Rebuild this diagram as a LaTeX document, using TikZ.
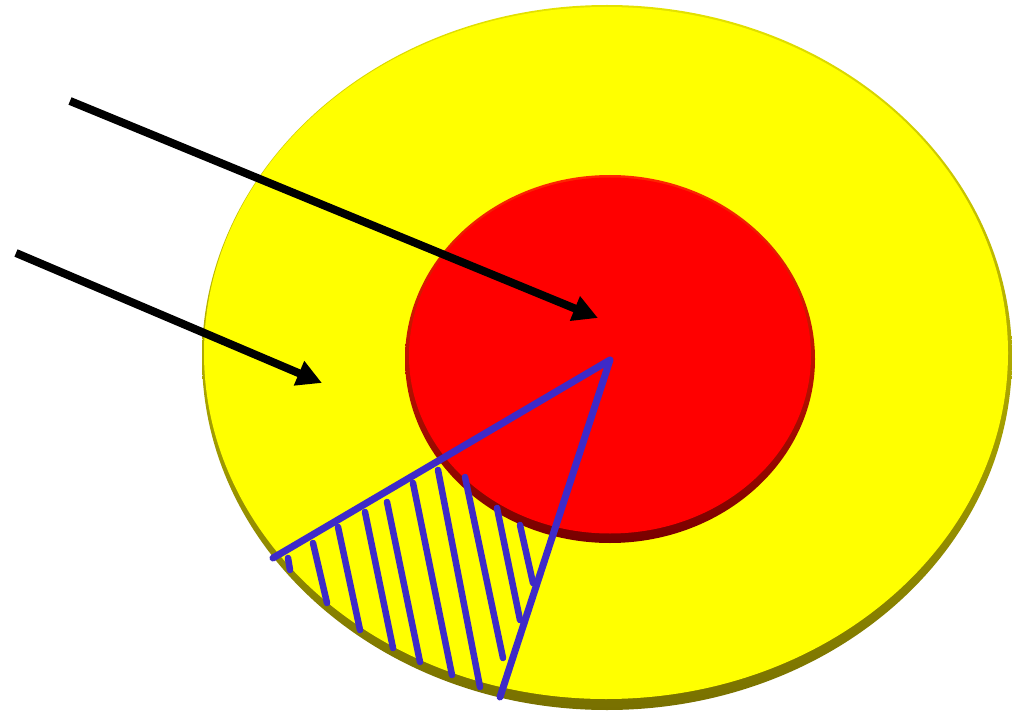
\documentclass[tikz,border=0pt]{standalone}
\usetikzlibrary{arrows.meta}
\definecolor{ylw}{RGB}{255,255,0}
\definecolor{olv}{RGB}{120,112,0}
\definecolor{rd}{RGB}{255,0,0}
\definecolor{drd}{RGB}{120,0,0}
\definecolor{blu}{RGB}{62,42,200}
\tikzset{
  pointer/.style={line width=8pt, -{Triangle[length=25pt,width=25pt]}, black},
  wedge/.style={line width=7pt, blu, line cap=round, line join=round},
  hatch/.style={line width=6.5pt, blu, line cap=round},
}
\begin{document}
\begin{tikzpicture}[x=1pt,y=-1pt]
\useasboundingbox (0,0) rectangle (1012,714);
% outer disc with bevel
\shade[top color=ylw!80!olv, bottom color=olv] (607,357.5) ellipse [x radius=405, y radius=352.5];
\fill[ylw] (606,353) ellipse [x radius=402, y radius=346];
% inner red disc with bevel
\shade[top color=rd!70!orange, bottom color=drd] (610,359) ellipse [x radius=205, y radius=184];
\fill[rd] (610,355.5) ellipse [x radius=201, y radius=178];
% named points
\coordinate (apex) at (610,360);
\coordinate (wl) at (273,558);
\coordinate (wr) at (500,697);
\coordinate (s1) at (70,101);
\coordinate (t1) at (598,318);
\coordinate (s2) at (16,253);
\coordinate (t2) at (322,383);
% hatching
\draw[hatch] (288,558) -- (290,570);
\draw[hatch] (313,543) -- (327,603);
\draw[hatch] (338,527) -- (360,630);
\draw[hatch] (365,512) -- (393,648);
\draw[hatch] (387,502) -- (420,662);
\draw[hatch] (413,483) -- (452,675);
\draw[hatch] (438,470) -- (480,687);
\draw[hatch] (465,477) -- (503,658);
\draw[hatch] (497,508) -- (520,620);
\draw[hatch] (520,525) -- (533,583);
% wedge
\draw[wedge] (wl) -- (apex) -- (wr);
% arrows
\draw[pointer] (s1) -- (t1);
\draw[pointer] (s2) -- (t2);
\end{tikzpicture}
\end{document}
